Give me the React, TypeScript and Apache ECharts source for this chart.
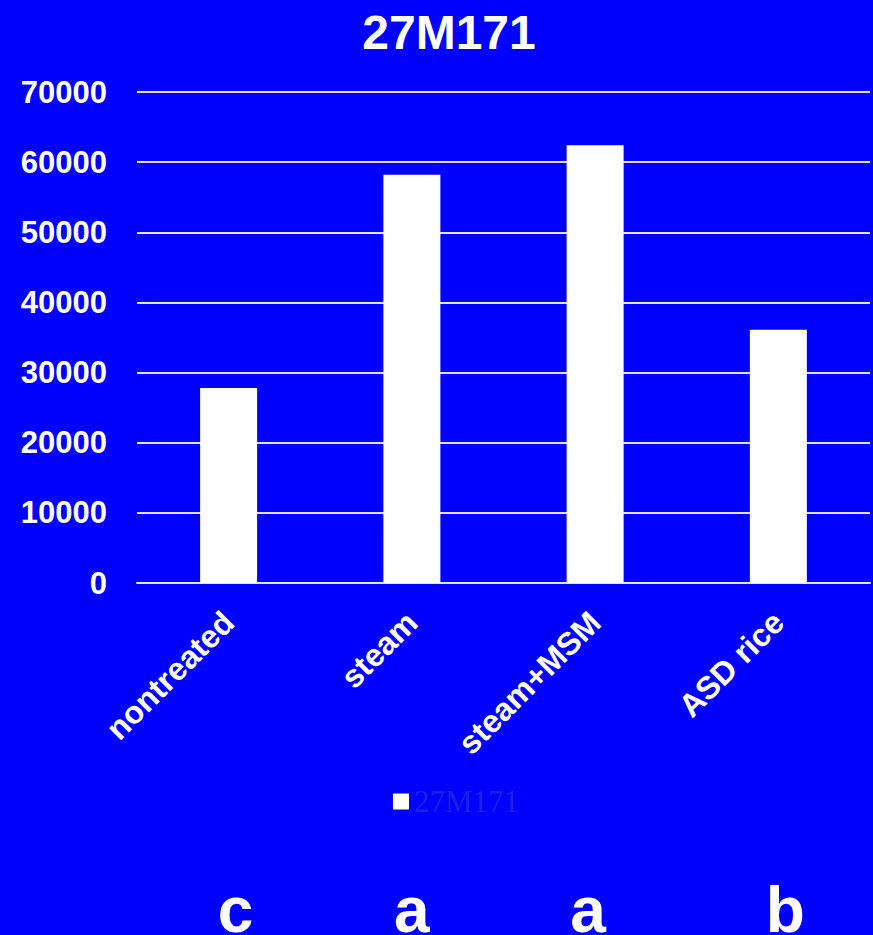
import React, { useEffect, useRef } from "react";
import * as echarts from "echarts";

const categories = ["nontreated", "steam", "steam+MSM", "ASD rice"];
const values = [27800, 58200, 62400, 36100];
const significance = ["c", "a", "a", "b"];
const seriesName = "27M171";
const chartTitle = "27M171";

const letterNudge = ["r", "n", "l", "r"];

export default function App() {
  const ref = useRef<HTMLDivElement>(null);
  useEffect(() => {
    if (!ref.current) return;
    const chart = echarts.init(ref.current, null, { renderer: "svg" });
    const letterBase = {
      color: "#ffffff",
      fontSize: 64,
      fontWeight: "bold",
      fontFamily: "Liberation Sans, Arial, sans-serif",
    };
    chart.setOption({
      animation: false,
      backgroundColor: "#0000ff",
      title: {
        text: chartTitle,
        left: 444,
        textAlign: "center",
        top: 3,
        textStyle: {
          color: "#ffffff",
          fontSize: 48,
          fontWeight: "bold",
          fontFamily: "Liberation Sans, Arial, sans-serif",
        },
      },
      legend: {
        data: [seriesName],
        left: 388,
        top: 781,
        icon: "rect",
        itemWidth: 16,
        itemHeight: 16,
        textStyle: {
          color: "#1f1fe6",
          fontSize: 31,
          fontFamily: "Liberation Serif, Times New Roman, serif",
        },
      },
      grid: {
        left: 137,
        right: 3,
        top: 92,
        bottom: 352,
        containLabel: false,
        outerBoundsMode: "none",
      },
      xAxis: [
        {
          type: "category",
          data: categories,
          axisLine: { show: true, lineStyle: { color: "#e0e0ff", width: 2 } },
          axisTick: { show: false },
          axisLabel: {
            interval: 0,
            rotate: 45,
            margin: 34,
            color: "#ffffff",
            fontSize: 32,
            fontWeight: "bold",
            fontFamily: "Liberation Sans, Arial, sans-serif",
          },
        },
        {
          type: "category",
          data: significance,
          position: "bottom",
          offset: 287,
          axisLine: { show: false },
          axisTick: { show: false },
          splitLine: { show: false },
          axisLabel: {
            interval: 0,
            margin: 8,
            ...letterBase,
            formatter: (v: string, i: number) => `{${letterNudge[i]}|${v}}`,
            rich: {
              n: { ...letterBase },
              r: { ...letterBase, padding: [0, 0, 0, 14] },
              l: { ...letterBase, padding: [0, 14, 0, 0] },
            },
          },
        },
      ],
      yAxis: {
        type: "value",
        min: 0,
        max: 70000,
        interval: 10000,
        axisLine: { show: false },
        axisTick: { show: false },
        splitLine: { show: true, lineStyle: { color: "#e0e0ff", width: 2 } },
        axisLabel: {
          margin: 30,
          formatter: (v: number) => String(v),
          color: "#ffffff",
          fontSize: 31,
          fontWeight: "bold",
          fontFamily: "Liberation Sans, Arial, sans-serif",
        },
      },
      series: [
        {
          name: seriesName,
          type: "bar",
          data: values,
          barWidth: 57,
          itemStyle: { color: "#ffffff" },
        },
      ],
    });
    return () => chart.dispose();
  }, []);
  return (
    <div
      ref={ref}
      style={{ position: "fixed", left: 0, top: 0, width: 873, height: 935 }}
    />
  );
}
